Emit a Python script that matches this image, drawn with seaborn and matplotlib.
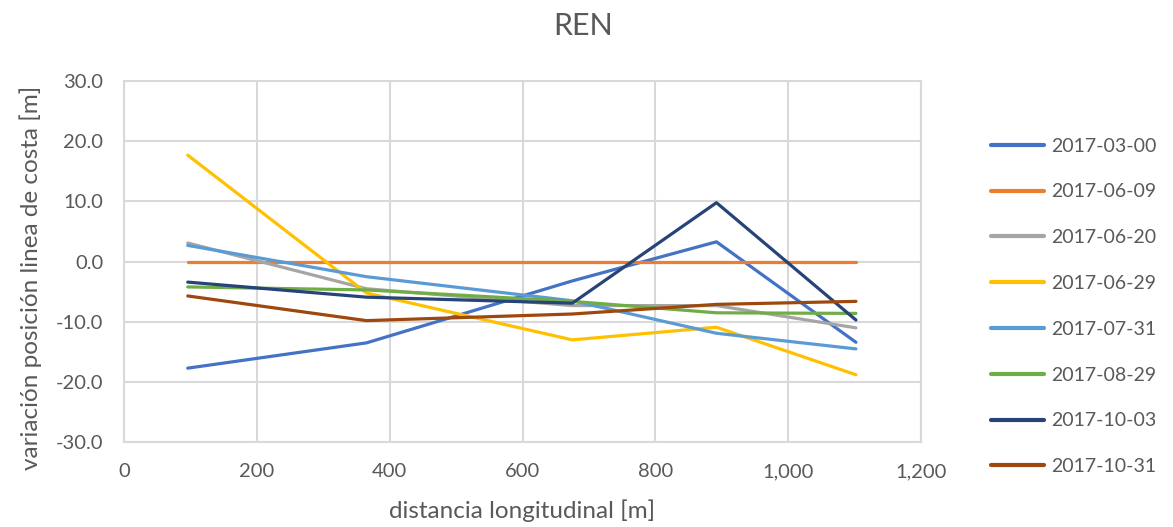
import matplotlib
matplotlib.use("Agg")
import matplotlib.pyplot as plt
import seaborn as sns
import pandas as pd
from matplotlib.ticker import FuncFormatter

# Shoreline position change along the beach for each survey date
distance = [96, 365, 675, 892, 1102]
dates = ["2017-03-00", "2017-06-09", "2017-06-20", "2017-06-29",
         "2017-07-31", "2017-08-29", "2017-10-03", "2017-10-31"]
s_0300 = [-17.7, -13.5, -3.2, 3.3, -13.4]
s_0609 = [0.0, 0.0, 0.0, 0.0, 0.0]
s_0620 = [3.1, -4.5, -7.3, -7.3, -11.0]
s_0629 = [17.7, -5.2, -13.0, -10.9, -18.8]
s_0731 = [2.7, -2.5, -6.5, -11.9, -14.5]
s_0829 = [-4.2, -4.7, -6.6, -8.5, -8.6]
s_1003 = [-3.4, -5.9, -6.9, 9.8, -9.7]
s_1031 = [-5.7, -9.8, -8.7, -7.1, -6.6]
series = [s_0300, s_0609, s_0620, s_0629, s_0731, s_0829, s_1003, s_1031]

colors = ["#4472C4", "#ED7D31", "#A5A5A5", "#FFC000",
          "#5B9BD5", "#70AD47", "#264478", "#9E480E"]

rows = []
for d, vals in zip(dates, series):
    for x, v in zip(distance, vals):
        rows.append({"distancia": x, "variacion": v, "fecha": d})
df = pd.DataFrame(rows)

sns.set_theme(style="white")
plt.rcParams["font.family"] = ["Lato", "DejaVu Sans"]
txt = "#595959"
grid = "#D9D9D9"

fig = plt.figure(figsize=(11.73, 5.27), dpi=100)
ax = fig.add_axes([0.1057, 0.161, 0.6795, 0.685])

sns.lineplot(data=df, x="distancia", y="variacion", hue="fecha",
             hue_order=dates, palette=colors, sort=False, estimator=None,
             linewidth=2.3, ax=ax)

ax.set_xlim(0, 1200)
ax.set_ylim(-30, 30)
ax.set_xticks(range(0, 1201, 200))
ax.set_yticks(range(-30, 31, 10))
ax.xaxis.set_major_formatter(FuncFormatter(lambda v, p: f"{int(v):,}"))
ax.yaxis.set_major_formatter(FuncFormatter(lambda v, p: f"{v:.1f}"))
ax.grid(True, color=grid, linewidth=1.5)
ax.set_axisbelow(True)
for sp in ax.spines.values():
    sp.set_color(grid)
    sp.set_linewidth(1.5)
ax.tick_params(axis="both", colors=txt, labelsize=14.5, length=0)
ax.tick_params(axis="y", pad=15)
ax.tick_params(axis="x", pad=15)

ax.set_xlabel("distancia longitudinal [m]", color=txt, fontsize=17.5)
ax.set_ylabel("variación posición linea de costa [m]", color=txt, fontsize=17.5)
ax.xaxis.set_label_coords(0.5, -0.158)
ax.yaxis.set_label_coords(-0.103, 0.455)
fig.text(0.497, 0.951, "REN", color=txt, fontsize=22, ha="center", va="center")

leg = ax.legend(loc="upper left", bbox_to_anchor=(1.0775, 0.865), frameon=False,
                fontsize=14, handlelength=2.75, handletextpad=0.35,
                labelspacing=1.48, borderaxespad=0)
for t in leg.get_texts():
    t.set_color(txt)
for h in leg.get_lines():
    h.set_linewidth(3)

fig.savefig("out.png", dpi=100)
